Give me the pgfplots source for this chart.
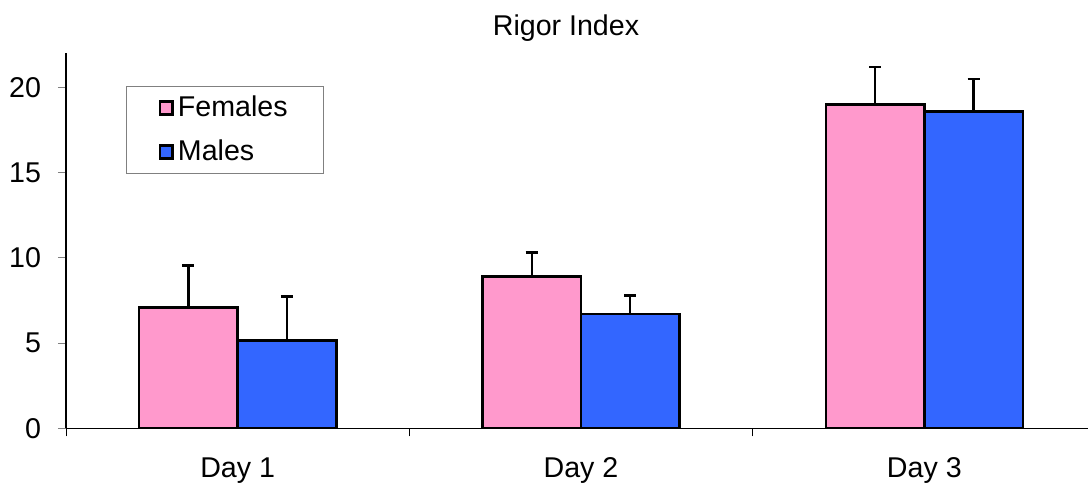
\documentclass[border=0pt]{standalone}
\usepackage{fontspec}
\setmainfont{Liberation Sans}
\usepackage{pgfplots}
\pgfplotsset{compat=1.18}
\definecolor{fpink}{HTML}{FF99CC}
\definecolor{mblue}{HTML}{3366FF}
\begin{document}
\begin{tikzpicture}
\useasboundingbox (0,0) rectangle (544pt,243pt);
\node[font=\fontsize{14.3}{17}\selectfont] at (283pt,229pt) {Rigor Index};
\begin{axis}[
  at={(33pt,28.85pt)}, anchor=south west,
  scale only axis, width=515pt, height=187.6pt,
  xmin=-0.5, xmax=2.5, ymin=0, ymax=22,
  axis x line=bottom, axis y line=left,
  axis line style={-, line width=0.6pt},
  xtick={0,1,2}, xticklabels={Day 1,Day 2,Day 3},
  minor xtick={-0.5,0.5,1.5,2.5},
  ytick={0,5,10,15,20},
  tick align=outside,
  major tick length=4pt, minor tick length=4pt,
  x tick style={draw=none}, minor x tick style={draw=black, line width=0.4pt},
  y tick style={line width=0.4pt},
  ticklabel style={font=\fontsize{14.3}{17}\selectfont},
  /pgf/number format/assume math mode=true,
  xticklabel style={yshift=-7pt},
  yticklabel style={xshift=-5pt},
  ybar, bar width=0.287,
  legend style={at={(0.0583,0.913)}, anchor=north west, draw=gray, line width=0.5pt,
    font=\fontsize{14.3}{17}\selectfont, inner xsep=16pt, inner ysep=3pt, row sep=6pt},
  legend cell align=left,
  legend image code/.code={\draw[#1, line width=1.3pt, draw=black] (0pt,-3.2pt) rectangle (6.4pt,3.2pt);},
]
\addplot[fill=fpink, draw=black, line width=1.3pt, bar shift=-0.1435,
  error bars/.cd, y dir=plus, y explicit, error mark=|, error bar style={line width=1.2pt, black},
  error mark options={mark size=3pt, line width=1.2pt, black}]
  coordinates {(0,7.10) +- (0,2.44) (1,8.89) +- (0,1.41) (2,19.0) +- (0,2.17)};
\addplot[fill=mblue, draw=black, line width=1.3pt, bar shift=0.1435,
  error bars/.cd, y dir=plus, y explicit, error mark=|, error bar style={line width=1.2pt, black},
  error mark options={mark size=3pt, line width=1.2pt, black}]
  coordinates {(0,5.16) +- (0,2.56) (1,6.69) +- (0,1.09) (2,18.57) +- (0,1.90)};
\legend{Females,Males}
\end{axis}
\end{tikzpicture}
\end{document}
